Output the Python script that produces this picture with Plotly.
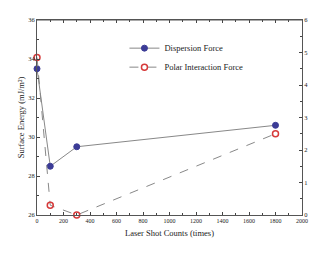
import plotly.graph_objects as go

shots = [0, 100, 300, 1800]
dispersion = [33.5, 28.5, 29.5, 30.6]
polar = [4.85, 0.3, 0.0, 2.5]

fig = go.Figure()
fig.add_trace(go.Scatter(
    x=shots, y=dispersion, name="Dispersion Force", mode="lines+markers",
    line=dict(color="#888888", width=1),
    marker=dict(symbol="circle", size=6, color="#3b3b96", line=dict(color="#3b3b96", width=1)),
    cliponaxis=False, yaxis="y"))
fig.add_trace(go.Scatter(
    x=shots, y=polar, name="Polar Interaction Force", mode="lines+markers",
    line=dict(color="#888888", width=1, dash="dash"),
    marker=dict(symbol="circle-open", size=6, color="#d63a3a", line=dict(color="#d63a3a", width=1.5)),
    cliponaxis=False, yaxis="y2"))

font = "Liberation Serif, Times New Roman, serif"
fig.update_layout(
    width=320, height=257,
    margin=dict(l=37, r=15, t=20, b=42),
    paper_bgcolor="white", plot_bgcolor="white",
    font=dict(family=font, size=7, color="#222222"),
    showlegend=True,
    legend=dict(x=0.33, y=0.93, xanchor="left", yanchor="top",
                bgcolor="rgba(0,0,0,0)", font=dict(size=8.5, family=font, color="#222222"),
                tracegroupgap=6, itemwidth=30),
    xaxis=dict(range=[0, 2000], dtick=200, ticks="inside", ticklen=3,
               showline=True, linecolor="#555555", linewidth=1, mirror="ticks",
               showgrid=False, zeroline=False,
               minor=dict(ticks="inside", ticklen=2, dtick=100),
               title=dict(text="Laser Shot Counts (times)", font=dict(size=8.5, family=font), standoff=6),
               tickfont=dict(size=6)),
    yaxis=dict(range=[26, 36], dtick=2, ticks="inside", ticklen=3,
               showline=True, linecolor="#555555", linewidth=1,
               showgrid=False, zeroline=False,
               minor=dict(ticks="inside", ticklen=2, dtick=1),
               title=dict(text="Surface Energy (mJ/m²)", font=dict(size=8.5, family=font), standoff=2),
               tickfont=dict(size=6.5)),
    yaxis2=dict(range=[0, 6], dtick=1, overlaying="y", side="right", ticks="inside", ticklen=3,
                showline=True, linecolor="#555555", linewidth=1,
                showgrid=False, zeroline=False,
                minor=dict(ticks="inside", ticklen=2, dtick=0.5),
                tickfont=dict(size=6.5)),
)
fig.add_shape(type="line", xref="paper", yref="paper", x0=0, x1=1, y0=1, y1=1,
              line=dict(color="#555555", width=1))
fig.write_html("out.html", config={"displayModeBar": False},
               post_script="document.body.style.margin='0';document.body.style.overflow='hidden';")
